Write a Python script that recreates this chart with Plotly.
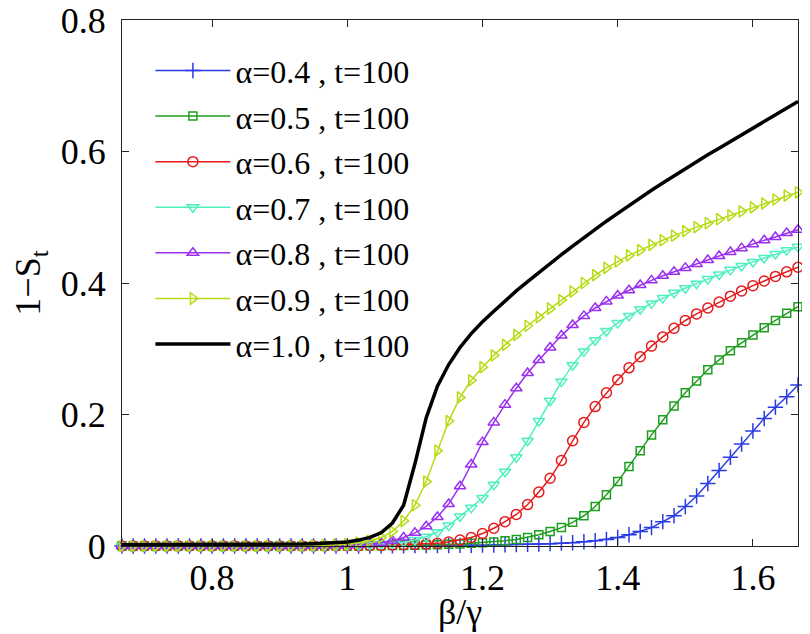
import plotly.graph_objects as go

# beta/gamma grid (61 points from 2/3 to 5/3)
beta_gamma = [0.6667, 0.6833, 0.7000, 0.7167, 0.7333, 0.7500, 0.7667, 0.7833, 0.8000, 0.8167,
              0.8333, 0.8500, 0.8667, 0.8833, 0.9000, 0.9167, 0.9333, 0.9500, 0.9667, 0.9833,
              1.0000, 1.0167, 1.0333, 1.0500, 1.0667, 1.0833, 1.1000, 1.1167, 1.1333, 1.1500,
              1.1667, 1.1833, 1.2000, 1.2167, 1.2333, 1.2500, 1.2667, 1.2833, 1.3000, 1.3167,
              1.3333, 1.3500, 1.3667, 1.3833, 1.4000, 1.4167, 1.4333, 1.4500, 1.4667, 1.4833,
              1.5000, 1.5167, 1.5333, 1.5500, 1.5667, 1.5833, 1.6000, 1.6167, 1.6333, 1.6500,
              1.6667]

a04 = [0.0]*23 + [0.0002, 0.0003, 0.0004, 0.0005, 0.0006, 0.0007, 0.0008, 0.0009, 0.0011, 0.0013,
                  0.0015, 0.0018, 0.0021, 0.0025, 0.003, 0.0036, 0.0043, 0.005, 0.0065, 0.008,
                  0.010, 0.013, 0.017, 0.022, 0.028, 0.037, 0.046, 0.060, 0.076, 0.095,
                  0.115, 0.135, 0.155, 0.175, 0.194, 0.211, 0.227, 0.245]

a05 = [0.0]*22 + [0.0003, 0.0005, 0.0007, 0.0009, 0.0012, 0.0015, 0.002, 0.0025, 0.003, 0.004,
                  0.005, 0.006, 0.008, 0.010, 0.013, 0.017, 0.022, 0.028, 0.036, 0.046,
                  0.060, 0.078, 0.098, 0.121, 0.145, 0.169, 0.192, 0.213, 0.233, 0.251,
                  0.268, 0.283, 0.297, 0.309, 0.321, 0.332, 0.343, 0.354, 0.364]

a06 = [0.0]*20 + [0.0003, 0.0005, 0.0007, 0.001, 0.0015, 0.002, 0.0025, 0.003, 0.004, 0.006,
                  0.009, 0.013, 0.019, 0.027, 0.037, 0.048, 0.063, 0.082, 0.103, 0.130,
                  0.160, 0.188, 0.212, 0.233, 0.253, 0.271, 0.288, 0.304, 0.318, 0.331,
                  0.343, 0.353, 0.362, 0.371, 0.380, 0.388, 0.396, 0.403, 0.410, 0.417,
                  0.424]

a07 = [0.0]*18 + [0.0003, 0.0005, 0.0008, 0.0012, 0.002, 0.003, 0.004, 0.006, 0.009, 0.014,
                  0.021, 0.031, 0.045, 0.058, 0.073, 0.093, 0.113, 0.135, 0.160, 0.190,
                  0.221, 0.250, 0.275, 0.296, 0.313, 0.327, 0.339, 0.350, 0.360, 0.369,
                  0.377, 0.385, 0.392, 0.399, 0.406, 0.413, 0.420, 0.426, 0.432, 0.438,
                  0.444, 0.450, 0.455]

a08 = [0.0]*17 + [0.0003, 0.0005, 0.0008, 0.0012, 0.002, 0.003, 0.005, 0.008, 0.013, 0.020,
                  0.030, 0.044, 0.064, 0.091, 0.124, 0.158, 0.188, 0.215, 0.240, 0.263,
                  0.283, 0.302, 0.320, 0.336, 0.350, 0.362, 0.372, 0.381, 0.389, 0.397,
                  0.404, 0.411, 0.417, 0.423, 0.429, 0.435, 0.441, 0.447, 0.453, 0.459,
                  0.465, 0.470, 0.476, 0.481]

a09 = [0.0]*16 + [0.0005, 0.0008, 0.0012, 0.002, 0.003, 0.005, 0.008, 0.013, 0.022, 0.038,
                  0.062, 0.098, 0.145, 0.190, 0.226, 0.252, 0.272, 0.290, 0.306, 0.321,
                  0.335, 0.348, 0.361, 0.374, 0.387, 0.400, 0.412, 0.423, 0.433, 0.442,
                  0.450, 0.458, 0.465, 0.472, 0.479, 0.485, 0.491, 0.497, 0.503, 0.509,
                  0.515, 0.521, 0.527, 0.533, 0.538]

a10 = [0.002]*15 + [0.0025, 0.003, 0.0035, 0.004, 0.005, 0.006, 0.009, 0.013, 0.020, 0.035,
                    0.062, 0.125, 0.195, 0.243, 0.276, 0.302, 0.323, 0.341, 0.357, 0.373,
                    0.388, 0.402, 0.416, 0.430, 0.443, 0.456, 0.469, 0.482, 0.494, 0.506,
                    0.518, 0.529, 0.541, 0.552, 0.563, 0.574, 0.584, 0.595, 0.605, 0.615,
                    0.626, 0.636, 0.646, 0.656, 0.666, 0.676]

labels = ["α=0.4 , t=100", "α=0.5 , t=100", "α=0.6 , t=100", "α=0.7 , t=100",
          "α=0.8 , t=100", "α=0.9 , t=100", "α=1.0 , t=100"]
series = [a04, a05, a06, a07, a08, a09, a10]
colors = ["#2a3ce6", "#1e9e1e", "#e41c1c", "#4ff0c0", "#9a2ff0", "#b5dc12", "#000000"]
symbols = ["cross-thin-open", "square-open", "circle-open", "triangle-down-open",
           "triangle-up-open", "triangle-right-open", None]
msizes = [11, 8, 10, 10, 10, 10, 0]

x_title = "β/γ"
y_title = "1−S<sub>t</sub>"

FONT = "Liberation Serif, Times New Roman, serif"

fig = go.Figure()
for k, (lab, ys, col, sym, ms) in enumerate(zip(labels, series, colors, symbols, msizes)):
    if sym is None:
        fig.add_trace(go.Scatter(x=beta_gamma, y=ys, mode="lines", name=lab,
                                 line=dict(color=col, width=3.5), legendgroup=f"g{k}",
                                 cliponaxis=False))
    else:
        fig.add_trace(go.Scatter(x=beta_gamma, y=ys, mode="lines+markers", name=lab,
                                 line=dict(color=col, width=1.5),
                                 marker=dict(symbol=sym, size=ms, color=col,
                                             line=dict(color=col, width=1.5)),
                                 legendgroup=f"g{k}", cliponaxis=False))

axis_common = dict(showline=True, linecolor="#222", linewidth=1, mirror="ticks",
                   ticks="inside", ticklen=7, tickcolor="#222", showgrid=False,
                   zeroline=False, automargin=False, ticklabeloverflow="allow",
                   tickfont=dict(family=FONT, size=36, color="black"))

# the page body adds an 8px offset, so the figure is sized to fit the window
fig.update_layout(
    width=802, height=626,
    margin=dict(l=114, r=12, t=12, b=88),
    paper_bgcolor="white", plot_bgcolor="white",
    font=dict(family=FONT, color="black"),
    xaxis=dict(range=[0.6667, 1.6667], tickvals=[0.8, 1.0, 1.2, 1.4, 1.6],
               ticktext=["0.8", "1", "1.2", "1.4", "1.6"],
               **axis_common),
    yaxis=dict(range=[0, 0.8], tickvals=[0, 0.2, 0.4, 0.6, 0.8],
               ticktext=["0", "0.2", "0.4", "0.6", "0.8"], ticklabelstandoff=8,
               title=dict(text=y_title, font=dict(family=FONT, size=36), standoff=14),
               **axis_common),
    legend=dict(x=0.042, y=0.956, xanchor="left", yanchor="top",
                bgcolor="rgba(0,0,0,0)", borderwidth=0,
                font=dict(family=FONT, size=32, color="black"),
                itemwidth=75, traceorder="grouped", tracegroupgap=1),
    showlegend=True,
)

fig.add_annotation(text=x_title, xref="paper", yref="paper", x=0.5, y=-0.125,
                   xanchor="center", yanchor="middle", showarrow=False,
                   font=dict(family=FONT, size=36, color="black"))

fig.write_html("out.html")
